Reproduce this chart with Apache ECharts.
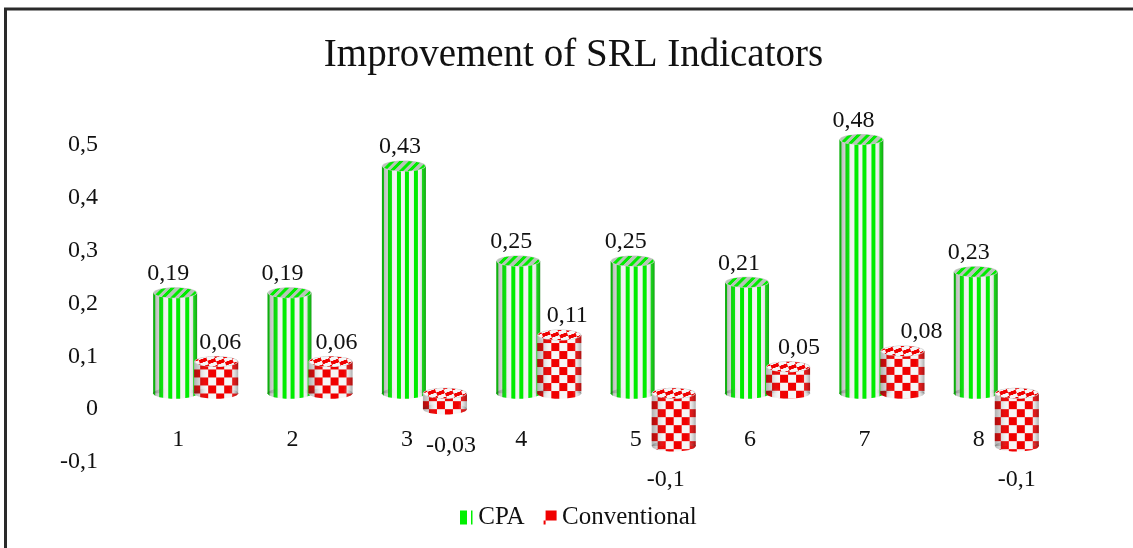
<!DOCTYPE html>
<html>
<head>
<meta charset="utf-8">
<title>Improvement of SRL Indicators</title>
<style>
  html, body { margin: 0; padding: 0; background: #fff; }
  #chart { width: 1133px; height: 548px; }
</style>
<script src="https://cdn.jsdelivr.net/npm/echarts@6/dist/echarts.min.js"></script>
</head>
<body>
<div id="chart"></div>
<script>
const categories = ['1', '2', '3', '4', '5', '6', '7', '8'];
const cpaValues = [0.19, 0.19, 0.43, 0.25, 0.25, 0.21, 0.48, 0.23];
const conventionalValues = [0.06, 0.06, -0.03, 0.11, -0.1, 0.05, 0.08, -0.1];
const yTicks = { min: -0.1, max: 0.5, interval: 0.1 };

const FONT = '"Liberation Serif", serif';
const BAR_W = 44;
const RY = 5.5;
const DEPTH = 16; // the 3d floor sits this far above the zero line

// small canvas tiles for the two fills
function stripeTile(base) {
  const c = document.createElement('canvas');
  c.width = 17; c.height = 4;
  const ctx = c.getContext('2d');
  ctx.fillStyle = base;
  ctx.fillRect(0, 0, 17, 4);
  ctx.fillStyle = '#00ec00';
  ctx.fillRect(0, 0, 4, 4);
  ctx.fillRect(8, 0, 4, 4);
  return c;
}

function checkTile() {
  const c = document.createElement('canvas');
  c.width = 16; c.height = 16;
  const ctx = c.getContext('2d');
  ctx.fillStyle = '#f6f6f6';
  ctx.fillRect(0, 0, 16, 16);
  ctx.fillStyle = '#f00000';
  ctx.fillRect(0, 0, 8, 8);
  ctx.fillRect(8, 8, 8, 8);
  return c;
}

const stripes = stripeTile('#f2f2f2');
const lidStripes = stripeTile('#b8c4b8');
const checks = checkTile();

function sideShade() {
  return new echarts.graphic.LinearGradient(0, 0, 1, 0, [
    { offset: 0, color: 'rgba(40,40,40,0.34)' },
    { offset: 0.14, color: 'rgba(60,60,60,0.16)' },
    { offset: 0.32, color: 'rgba(255,255,255,0)' },
    { offset: 0.8, color: 'rgba(255,255,255,0)' },
    { offset: 1, color: 'rgba(40,40,40,0.36)' }
  ]);
}

function cylinder(opts) {
  return function (params, api) {
    const i = api.value(0);
    const v = api.value(1);
    const zero = api.coord([i, 0]);
    const end = api.coord([i, v]);
    const baseY = zero[1] - DEPTH;
    const h = Math.abs(end[1] - zero[1]);
    const topY = v >= 0 ? baseY - h : baseY;
    const bodyFill = { image: opts.tile, repeat: 'repeat', x: opts.tileX };
    // labels sit over the lid, or under the cylinder when negative
    const labelY = v >= 0 ? -19 : h + (v < -0.05 ? 34 : 37);

    return {
      type: 'group',
      x: zero[0] + opts.dx,
      y: topY,
      children: [
        { type: 'ellipse', shape: { cx: 0, cy: h, rx: BAR_W / 2, ry: RY }, style: { fill: bodyFill } },
        { type: 'rect', shape: { x: -BAR_W / 2, y: 0, width: BAR_W, height: h }, style: { fill: bodyFill } },
        { type: 'ellipse', shape: { cx: 0, cy: h, rx: BAR_W / 2, ry: RY }, style: { fill: sideShade() } },
        { type: 'rect', shape: { x: -BAR_W / 2, y: 0, width: BAR_W, height: h }, style: { fill: sideShade() } },
        { type: 'ellipse', shape: { cx: 0, cy: 0, rx: BAR_W / 2, ry: RY }, style: { fill: '#cfcfcf' } },
        { type: 'ellipse', shape: { cx: 0, cy: 0, rx: BAR_W / 2 - 1, ry: RY - 0.5 }, style: { fill: opts.lid } },
        {
          type: 'text',
          x: opts.labelDx[i],
          y: labelY,
          style: {
            text: String(v).replace('.', ','),
            font: '24px ' + FONT,
            fill: '#111',
            align: 'center',
            verticalAlign: 'middle'
          }
        }
      ]
    };
  };
}

const chart = echarts.init(document.getElementById('chart'));

chart.setOption({
  animation: false,
  backgroundColor: '#fff',
  title: {
    text: 'Improvement of SRL Indicators',
    left: 568.5,
    top: 31,
    textAlign: 'center',
    textStyle: { fontFamily: FONT, fontWeight: 'normal', fontSize: 39, color: '#111' }
  },
  grid: { left: 121, top: 145, width: 915, height: 317 },
  legend: {
    left: 460,
    top: 505,
    padding: 0,
    itemWidth: 14,
    itemHeight: 14,
    itemGap: 19,
    textStyle: { fontFamily: FONT, fontSize: 25, color: '#111' },
    data: [
      { name: 'CPA', icon: 'path://M0 0H7V14H0Z M11 0H12.5V14H11Z', itemStyle: { color: '#00f000' } },
      { name: 'Conventional', icon: 'path://M2 0H13V10H2Z M0 10H2V14H0Z', itemStyle: { color: '#f00000' } }
    ]
  },
  xAxis: {
    type: 'category',
    data: categories,
    axisLine: { show: false },
    axisTick: { show: false },
    splitLine: { show: false },
    // the labels float inside the plot, just under the zero line
    axisLabel: { inside: true, fontFamily: FONT, fontSize: 24, color: '#111', margin: 10 }
  },
  yAxis: {
    type: 'value',
    min: yTicks.min,
    max: yTicks.max,
    interval: yTicks.interval,
    axisLine: { show: false },
    axisTick: { show: false },
    splitLine: { show: false },
    axisLabel: {
      fontFamily: FONT,
      fontSize: 24,
      color: '#111',
      margin: 23,
      formatter: function (v) { return String(Math.round(v * 10) / 10).replace('.', ','); }
    }
  },
  series: [
    {
      name: 'CPA',
      type: 'custom',
      clip: false,
      itemStyle: { color: '#00f000' },
      encode: { x: 0, y: 1 },
      data: cpaValues.map((v, i) => [i, v]),
      renderItem: cylinder({
        dx: -3,
        tile: stripes,
        tileX: -7,
        lid: { image: lidStripes, repeat: 'repeat', rotation: Math.PI / 4, scaleX: 0.75, scaleY: 1 },
        labelDx: [-7, -7, -4, -7, -7, -8, -8, -7]
      })
    },
    {
      name: 'Conventional',
      type: 'custom',
      clip: false,
      itemStyle: { color: '#f00000' },
      encode: { x: 0, y: 1 },
      data: conventionalValues.map((v, i) => [i, v]),
      renderItem: cylinder({
        dx: 38,
        tile: checks,
        tileX: 0,
        lid: { image: checks, repeat: 'repeat', rotation: -0.35, scaleX: 1, scaleY: 0.45 },
        labelDx: [4, 6, 6, 8, -8, 11, 19, 0]
      })
    }
  ],
  graphic: [
    {
      type: 'polyline',
      silent: true,
      shape: { points: [[5.5, 548], [5.5, 9], [1133, 9]] },
      style: { stroke: '#2a2a2a', lineWidth: 3, fill: null }
    }
  ]
});

window.addEventListener('resize', () => chart.resize());
</script>
</body>
</html>
